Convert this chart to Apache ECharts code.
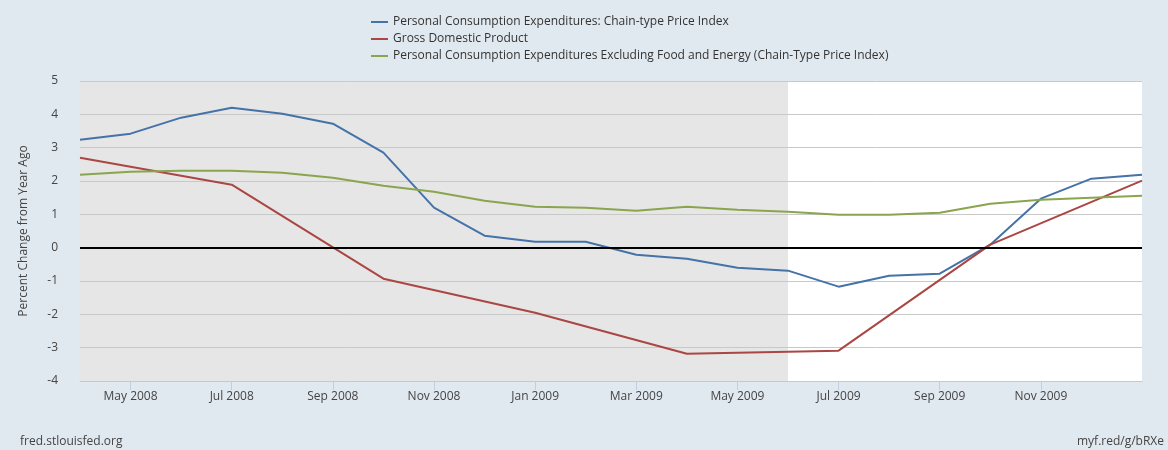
<!DOCTYPE html>
<html><head><meta charset="utf-8">
<script src="https://cdn.jsdelivr.net/npm/echarts@6/dist/echarts.min.js"></script>
<style>html,body{margin:0;padding:0;background:#e1e9f0;}#c{width:1168px;height:450px;}</style>
</head><body><div id="c"></div>
<script>
const months = ['Apr 2008','May 2008','Jun 2008','Jul 2008','Aug 2008','Sep 2008','Oct 2008','Nov 2008','Dec 2008',
  'Jan 2009','Feb 2009','Mar 2009','Apr 2009','May 2009','Jun 2009','Jul 2009','Aug 2009','Sep 2009','Oct 2009','Nov 2009','Dec 2009','Jan 2010'];
const pce = [3.24,3.42,3.90,4.20,4.02,3.72,2.85,1.20,0.36,0.18,0.18,-0.21,-0.33,-0.60,-0.69,-1.17,-0.84,-0.78,0.09,1.47,2.07,2.19];
const gdp = [2.70,null,null,1.89,null,null,-0.93,null,null,-1.95,null,null,-3.18,null,null,-3.09,null,null,0.09,null,null,2.01];
const core = [2.19,2.28,2.31,2.31,2.25,2.10,1.86,1.68,1.41,1.23,1.20,1.11,1.23,1.14,1.08,0.99,0.99,1.05,1.32,1.44,1.50,1.56];
const yTicks = {min:-4, max:5, interval:1};
const recession = ['Apr 2008','Jun 2009'];
const names = ['Personal Consumption Expenditures: Chain-type Price Index','Gross Domestic Product','Personal Consumption Expenditures Excluding Food and Energy (Chain-Type Price Index)'];
const colors = ['#4572a7','#aa4643','#89a54e'];

const font = '"Open Sans", "Noto Sans", sans-serif';
const labelIdx = (i) => i % 2 === 1 && i < months.length - 1;
const chart = echarts.init(document.getElementById('c'));
chart.setOption({
  backgroundColor: '#e1e9f0',
  animation: false,
  textStyle: {fontFamily: font},
  legend: {
    orient: 'vertical', left: 366, top: 11, itemWidth: 17, itemHeight: 2, itemGap: 5,
    icon: 'rect', textStyle: {fontFamily: font, fontSize: 12, color: '#333'},
    data: names
  },
  grid: {left: 80, right: 26, top: 81, bottom: 69, show: true, backgroundColor: '#fff', borderWidth: 0},
  xAxis: {
    type: 'category', data: months, boundaryGap: false,
    axisLine: {onZero: false, lineStyle: {color: '#c0d0e0', width: 1}},
    axisTick: {alignWithLabel: true, length: 9, lineStyle: {color: '#c0d0e0'}, interval: (i) => labelIdx(i)},
    axisLabel: {interval: (i) => labelIdx(i), color: '#444', fontSize: 12, fontFamily: font, margin: 10},
    splitLine: {show: false}
  },
  yAxis: {
    type: 'value', min: yTicks.min, max: yTicks.max, interval: yTicks.interval, z: 2,
    name: 'Percent Change from Year Ago', nameLocation: 'middle', nameGap: 50,
    nameTextStyle: {color: '#444', fontSize: 12, fontFamily: font},
    axisLine: {show: false}, axisTick: {show: false},
    axisLabel: {color: '#444', fontSize: 12, fontFamily: font, margin: 22},
    splitLine: {lineStyle: {color: '#c8c8c8', width: 1}}
  },
  series: [
    {type: 'line', data: [], z: 1, silent: true,
      markArea: {silent: true, itemStyle: {color: '#e6e6e6'}, data: [[{xAxis: recession[0]}, {xAxis: recession[1]}]]}},
    {type: 'line', data: [], z: 2.5, silent: true,
      markLine: {silent: true, symbol: 'none', label: {show: false}, lineStyle: {color: '#000', width: 2, type: 'solid'}, data: [{yAxis: 0}]}},
    {name: names[0], type: 'line', data: pce, z: 3, showSymbol: false, color: colors[0], lineStyle: {width: 2, color: colors[0]}},
    {name: names[1], type: 'line', data: gdp, z: 3, showSymbol: false, connectNulls: true, color: colors[1], lineStyle: {width: 2, color: colors[1]}},
    {name: names[2], type: 'line', data: core, z: 3, showSymbol: false, color: colors[2], lineStyle: {width: 2, color: colors[2]}}
  ],
  graphic: [
    {type: 'text', left: 20, top: 436, style: {text: 'fred.stlouisfed.org', font: '12px ' + font, fill: '#444'}},
    {type: 'text', right: 4, top: 436, style: {text: 'myf.red/g/bRXe', font: '12px ' + font, fill: '#444'}}
  ]
});
</script></body></html>
